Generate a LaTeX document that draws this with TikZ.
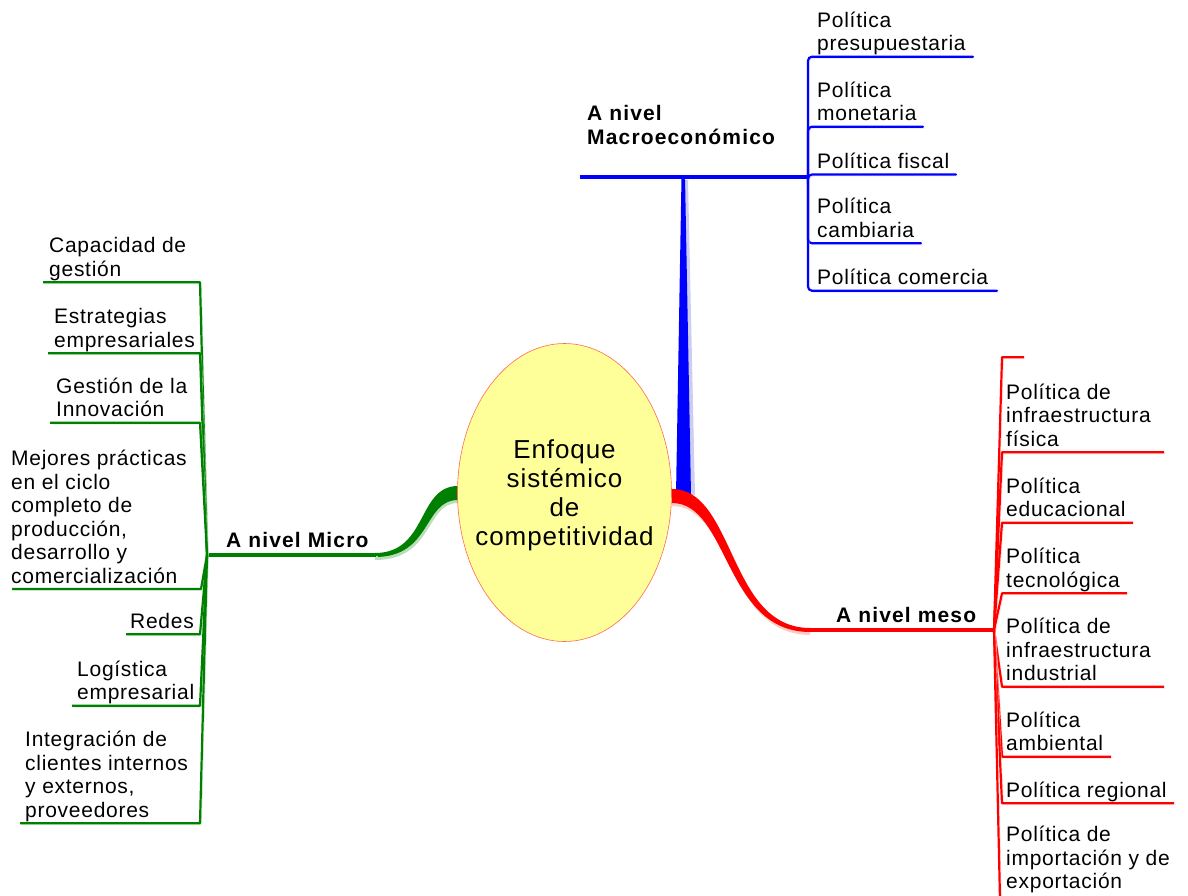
\documentclass[tikz,border=0pt]{standalone}
\usepackage{fontspec}
\setmainfont{Liberation Sans}[LetterSpace=3.5, BoldFeatures={LetterSpace=5.5}]
\usetikzlibrary{shapes.geometric}
\definecolor{macroblue}{RGB}{0,0,255}
\definecolor{macroshade}{RGB}{205,205,242}
\definecolor{microgreen}{RGB}{0,128,0}
\definecolor{microshade}{RGB}{185,222,185}
\definecolor{mesored}{RGB}{255,0,0}
\definecolor{mesoshade}{RGB}{255,205,195}
\definecolor{corefill}{RGB}{255,255,153}
\definecolor{coreline}{RGB}{255,105,80}
\begin{document}
\begin{tikzpicture}[x=1pt,y=-1pt,
  leaf/.style={font=\fontsize{21}{23.5}\selectfont, align=left, inner sep=0pt, text depth=5pt, anchor=south west},
  topic/.style={leaf, font=\fontsize{21}{23.5}\selectfont\bfseries},
  halo/.style={preaction={draw=#1, transform canvas={shift={(1.5pt,-1.5pt)}}}},
  twig/.style={draw=#1, line width=2.2pt, rounded corners=4pt, line cap=round},
  fan/.style={draw=#1, line width=2.2pt, line join=round},
]
\useasboundingbox (0,0) rectangle (1188,896);

% ---------- hubs ----------
\coordinate (hubM) at (808,177);
\coordinate (hubG) at (207,555);
\coordinate (hubR) at (994,630);

% ---------- macro branch (blue) ----------
\fill[macroshade] (679,495) -- (684,180) -- (688,180) -- (695,495) -- cycle;
\fill[macroblue] (676,495) -- (681.5,177) -- (685,177) -- (691,495) -- cycle;
\coordinate (barL) at (580,177);
\draw[macroblue, line width=3.5pt, halo=macroshade] (barL) -- (hubM);
\node[topic] (macro) at (587,149.3) {A nivel\\Macroeconómico};

\coordinate (bM1) at (973,56.7);
\coordinate (bM2) at (923,126.7);
\coordinate (bM3) at (956,174.5);
\coordinate (bM4) at (921,243.3);
\coordinate (bM5) at (997,290.7);
\foreach \e in {bM1,bM2,bM3,bM4,bM5}
  \draw[twig=macroblue, halo=macroshade] (hubM) |- (\e);
\node[leaf] (tM1) at (817,56) {Política\\presupuestaria};
\node[leaf] (tM2) at (817,126) {Política\\monetaria};
\node[leaf] (tM3) at (817,173.8) {Política fiscal};
\node[leaf] (tM4) at (817,242.6) {Política\\cambiaria};
\node[leaf] (tM5) at (817,290) {Política comercia};

% ---------- micro branch (green) ----------
\fill[microshade] (458,489) .. controls (419,489) and (430,556) .. (375,556)
  -- (375,560) .. controls (434,560) and (425,503) .. (458,503) -- cycle;
\fill[microgreen] (458,486) .. controls (417,486) and (428,553) .. (375,553)
  -- (375,557) .. controls (432,557) and (423,500) .. (458,500) -- cycle;
\coordinate (gJoin) at (376,555);
\draw[microgreen, line width=4pt, halo=microshade] (gJoin) -- (hubG);
\node[topic] (micro) at (226,553) {A nivel Micro};

\coordinate (gC1) at (200,282.3) ; \coordinate (gE1) at (43,282.3);
\coordinate (gC2) at (200,353.3) ; \coordinate (gE2) at (48,353.3);
\coordinate (gC3) at (200,422.7) ; \coordinate (gE3) at (50,422.7);
\coordinate (gC4) at (201,589)   ; \coordinate (gE4) at (12,589);
\coordinate (gC5) at (200,634.3) ; \coordinate (gE5) at (126,634.3);
\coordinate (gC6) at (200,705.7) ; \coordinate (gE6) at (72,705.7);
\coordinate (gC7) at (200,823.3) ; \coordinate (gE7) at (20,823.3);
\foreach \i in {1,...,7}
  \draw[fan=microgreen, halo=microshade] (hubG) -- (gC\i) -- (gE\i);

\node[leaf] (tG1) at (49,281.6) {Capacidad de\\gestión};
\node[leaf] (tG2) at (54,352.6) {Estrategias\\empresariales};
\node[leaf] (tG3) at (56,422) {Gestión de la\\Innovación};
\node[leaf] (tG4) at (11,588.3) {Mejores prácticas\\en el ciclo\\completo de\\producción,\\desarrollo y\\comercialización};
\node[leaf] (tG5) at (130,633.6) {Redes};
\node[leaf] (tG6) at (77,705) {Logística\\empresarial};
\node[leaf] (tG7) at (25,822.6) {Integración de\\clientes internos\\y externos,\\proveedores};

% ---------- meso branch (red) ----------
\fill[mesoshade] (672,492) .. controls (737,492) and (731,631) .. (810,631)
  -- (810,635) .. controls (727,635) and (731,506) .. (672,506) -- cycle;
\fill[mesored] (672,489) .. controls (735,489) and (728,628) .. (810,628)
  -- (810,632) .. controls (724,632) and (729,503) .. (672,503) -- cycle;
\coordinate (rJoin) at (809,630);
\draw[mesored, line width=3.5pt, halo=mesoshade] (rJoin) -- (hubR);
\node[topic] (meso) at (836,627.7) {A nivel meso};

\coordinate (rC0) at (1002,357.3); \coordinate (rE0) at (1024,357.3);
\coordinate (rC1) at (1002,452.3); \coordinate (rE1) at (1164,452.3);
\coordinate (rC2) at (1002,522.7); \coordinate (rE2) at (1133,522.7);
\coordinate (rC3) at (1002,593.3); \coordinate (rE3) at (1127,593.3);
\coordinate (rC4) at (1002,686.7); \coordinate (rE4) at (1164,686.7);
\coordinate (rC5) at (1002,756.7); \coordinate (rE5) at (1111,756.7);
\coordinate (rC6) at (1002,803.3); \coordinate (rE6) at (1174,803.3);
\foreach \i in {0,...,6}
  \draw[fan=mesored, halo=mesoshade] (hubR) -- (rC\i) -- (rE\i);
\coordinate (rC7) at (1000,900);
\draw[fan=mesored, halo=mesoshade] (hubR) -- (rC7);

\node[leaf] (tR1) at (1006,451.6) {Política de\\infraestructura\\física};
\node[leaf] (tR2) at (1006,522) {Política\\educacional};
\node[leaf] (tR3) at (1006,592.6) {Política\\tecnológica};
\node[leaf] (tR4) at (1006,686) {Política de\\infraestructura\\industrial};
\node[leaf] (tR5) at (1006,756) {Política\\ambiental};
\node[leaf] (tR6) at (1006,802.6) {Política regional};
\node[leaf] (tR7) at (1006,894) {Política de\\importación y de\\exportación};

% ---------- central idea ----------
\node[ellipse, draw=coreline, line width=0.6pt, fill=corefill,
      minimum width=214pt, minimum height=298pt, inner sep=0pt]
  (core) at (564.5,492.5) {};
\node[align=center, inner sep=0pt, font=\fontsize{26}{29}\selectfont]
  (coretext) at (564.5,495) {Enfoque\\sistémico\\de\\competitividad};
\end{tikzpicture}
\end{document}
